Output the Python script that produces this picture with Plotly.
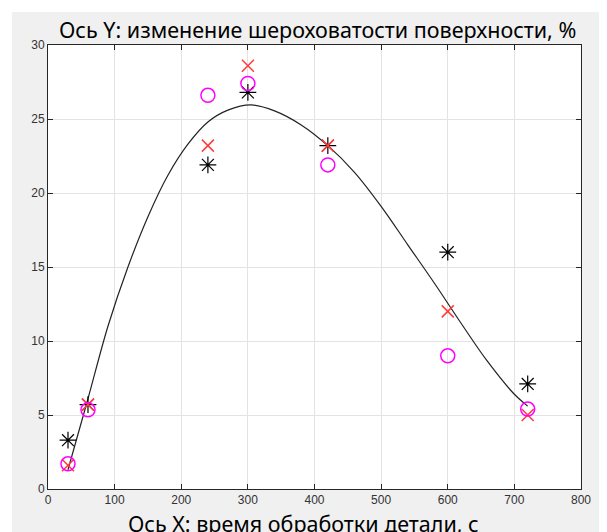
import plotly.graph_objects as go

# Measured points
t_points = [30, 60, 240, 300, 420, 600, 720]
series_star = [3.3, 5.7, 21.9, 26.8, 23.2, 16.0, 7.1]
series_x = [1.6, 5.7, 23.2, 28.6, 23.2, 12.0, 5.0]
series_circle = [1.7, 5.35, 26.6, 27.4, 21.9, 9.0, 5.4]

# Fitted curve
curve_t = [30, 60, 90, 120, 150, 180, 210, 240, 270, 305, 340, 380, 420, 460, 500, 540, 580, 620, 660, 700, 720]
curve_y = [1.3, 6.1, 11.0, 15.0, 18.4, 21.2, 23.3, 24.8, 25.6, 25.95, 25.55, 24.6, 23.2, 21.4, 19.1, 16.5, 13.9, 11.2, 8.6, 6.4, 5.6]

x_ticks = [0, 100, 200, 300, 400, 500, 600, 700, 800]
y_ticks = [0, 5, 10, 15, 20, 25, 30]

title_text = "Ось Y: изменение шероховатости поверхности, %"
xlabel_text = "Ось X: время обработки детали, с"

fig = go.Figure()
fig.add_trace(go.Scatter(x=curve_t, y=curve_y, mode="lines",
                         line=dict(color="#222222", width=1.2, shape="spline", smoothing=1.0),
                         showlegend=False, hoverinfo="skip"))
fig.add_trace(go.Scatter(x=t_points, y=series_star, mode="markers",
                         marker=dict(symbol="asterisk-open", size=14, color="black",
                                     line=dict(color="black", width=1.2)),
                         showlegend=False))
fig.add_trace(go.Scatter(x=t_points, y=series_x, mode="markers",
                         marker=dict(symbol="x-thin-open", size=12, color="#ff3b3b",
                                     line=dict(color="#ff3b3b", width=1.5)),
                         showlegend=False))
fig.add_trace(go.Scatter(x=t_points, y=series_circle, mode="markers",
                         marker=dict(symbol="circle-open", size=14, color="#ff00ff",
                                     line=dict(color="#ff00ff", width=1.5)),
                         showlegend=False))

axis_common = dict(showgrid=True, gridcolor="#e3e3e3", gridwidth=1,
                   showline=True, linecolor="#262626", linewidth=1, mirror="ticks",
                   ticks="inside", ticklen=5, tickcolor="#262626",
                   tickfont=dict(family="Liberation Sans, Arial", size=12, color="#333333"),
                   zeroline=False)

fig.update_xaxes(range=[0, 800], tickvals=x_ticks, ticktext=[str(v) for v in x_ticks], **axis_common)
fig.update_yaxes(range=[0, 30], tickvals=y_ticks, ticktext=[str(v) for v in y_ticks], **axis_common)

fig.update_layout(
    width=599, height=524,
    margin=dict(l=40, r=26, t=37, b=43),
    paper_bgcolor="#f0f0f0",
    plot_bgcolor="white",
    annotations=[
        dict(text=title_text, xref="paper", yref="paper", x=0.505, y=1.034,
             xanchor="center", yanchor="middle", showarrow=False,
             font=dict(family="Noto Sans, Open Sans", size=21.5, color="black")),
        dict(text=xlabel_text, xref="paper", yref="paper", x=0.48, y=-0.0405,
             xanchor="center", yanchor="top", showarrow=False,
             font=dict(family="Noto Sans, Open Sans", size=21.5, color="black")),
    ],
    shapes=[
        dict(type="rect", xref="paper", yref="paper", x0=-0.2, x1=1.2, y0=1.0745, y1=1.3,
             fillcolor="white", line=dict(width=0), layer="below"),
        dict(type="rect", xref="paper", yref="paper", x0=-0.2, x1=-0.0675, y0=-0.2, y1=1.3,
             fillcolor="white", line=dict(width=0), layer="below"),
        dict(type="rect", xref="paper", yref="paper", x0=1.043, x1=1.2, y0=-0.2, y1=1.3,
             fillcolor="white", line=dict(width=0), layer="below"),
    ],
)

fig.write_html("out.html")
